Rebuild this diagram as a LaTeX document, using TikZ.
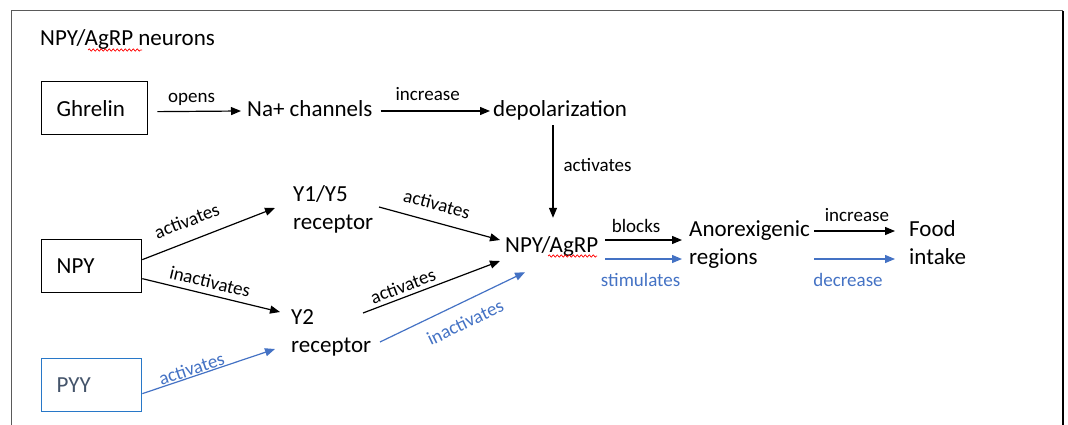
\documentclass[tikz,border=0pt]{standalone}
\usepackage{fontspec}
\setmainfont{Carlito}
\usetikzlibrary{arrows.meta,calc,decorations.pathmorphing}
\definecolor{arrblue}{RGB}{68,114,196}
\definecolor{pyyblue}{RGB}{40,120,200}
\definecolor{pyytext}{RGB}{68,84,106}
\definecolor{framegray}{RGB}{90,90,90}
\begin{document}
\begin{tikzpicture}[x=1pt,y=-1pt,
 txt/.style={font=\fontsize{23}{28.5}\selectfont, inner sep=0pt},
 one/.style={txt, text height=15pt, text depth=5pt},
 multi/.style={txt, align=left},
 elbl/.style={font=\fontsize{19}{22}\selectfont, inner sep=0pt, text height=13pt, text depth=4pt},
 box/.style={draw, line width=1.3pt, minimum height=53pt, inner xsep=15pt, inner ysep=0pt, align=left, font=\fontsize{23}{28}\selectfont, anchor=north west},
 arr/.style={-{Triangle[length=10pt,width=8pt]}, line width=1.2pt},
 barr/.style={arr, arrblue},
 squig/.style={red, line width=0.7pt, decorate, decoration={snake, amplitude=1.2pt, segment length=4pt}}
]
\useasboundingbox (0,0) rectangle (1068,425);
% frame
\draw[framegray, line width=1pt] (11,425) -- (11,11) -- (1063,11);
\draw[line width=2pt] (1063,11) -- (1063,425);

% title
\node[one, anchor=base west] (title) at (40,46) {NPY/AgRP neurons};
\draw[squig] ($(title.base west)+(48,4)$) -- ++(54,0);

% boxes
\node[box, text width=76pt] (ghrelin) at (41,81) {Ghrelin};
\node[box, text width=70pt] (npy) at (41,239) {NPY};
\node[box, text width=70pt, draw=pyyblue, text=pyytext] (pyy) at (41,358) {PYY};

% text nodes
\node[one, anchor=base west] (na) at (247,117) {Na+ channels};
\node[one, anchor=base west] (depol) at (493,117) {depolarization};
\node[one, anchor=base west] (agrp) at (505,252) {NPY/AgRP};
\draw[squig] ($(agrp.base west)+(43,4)$) -- ++(49,0);
\node[multi, anchor=north west] (y15) at (293,185) {Y1/Y5\\receptor};
\node[multi, anchor=north west] (y2) at (291,309) {Y2\\receptor};
\node[multi, anchor=north west] (anor) at (689,220) {Anorexigenic\\regions};
\node[multi, anchor=north west] (food) at (909,220) {Food\\intake};

% connectors
\draw[arr] ($(ghrelin.east)+(9,3.5)$) -- node[elbl, pos=0.41, above=4pt] {opens} ($(na.west)+(-6,-1)$);
\draw[arr] ($(na.east)+(8,-1)$) -- node[elbl, pos=0.43, above=6pt] {increase} ($(depol.west)+(-3,-1)$);
\draw[arr] ($(depol.south west)+(60,3)$) -- node[elbl, pos=0.45, right=10pt] {activates} ($(agrp.north west)+(48,-19)$);

\draw[arr] ($(npy.east)+(0,-6.5)$) -- node[elbl, sloped, pos=0.39, above=9pt] {activates} ($(y15.north west)+(-18,23)$);
\draw[arr] ($(npy.east)+(0,12.5)$) -- node[elbl, sloped, pos=0.47, above=2pt] {inactivates} ($(y2.north west)+(-11,3)$);
\draw[barr] ($(pyy.east)+(0,8.5)$) -- node[elbl, sloped, pos=0.39, above=-3pt, text=arrblue] {activates} ($(y2.north west)+(-16,40)$);

\draw[arr] ($(y15.north west)+(86,22)$) -- node[elbl, sloped, pos=0.44, above=7pt] {activates} ($(agrp.west)+(-5,-7)$);
\draw[arr] ($(y2.north west)+(72,4)$) -- node[elbl, sloped, pos=0.32, above=0pt] {activates} ($(agrp.west)+(-5,14)$);
\draw[barr] ($(y2.north west)+(89,33)$) -- node[elbl, sloped, pos=0.53, below=12pt, text=arrblue] {inactivates} ($(agrp.south west)+(20,15)$);

\draw[arr] ($(agrp.east)+(7,-7)$) -- node[elbl, pos=0.4, above=3pt] {blocks} ($(anor.north west)+(-7,20)$);
\draw[barr] ($(agrp.east)+(7,12)$) -- node[elbl, pos=0.46, below=14pt, text=arrblue] {stimulates} ($(anor.north west)+(-7,39)$);
\draw[arr] ($(anor.north west)+(125,11)$) -- node[elbl, pos=0.53, above=5pt] {increase} ($(food.north west)+(-14,11)$);
\draw[barr] ($(anor.north west)+(125,39)$) -- node[elbl, pos=0.42, below=14pt, text=arrblue] {decrease} ($(food.north west)+(-14,39)$);
\end{tikzpicture}
\end{document}
